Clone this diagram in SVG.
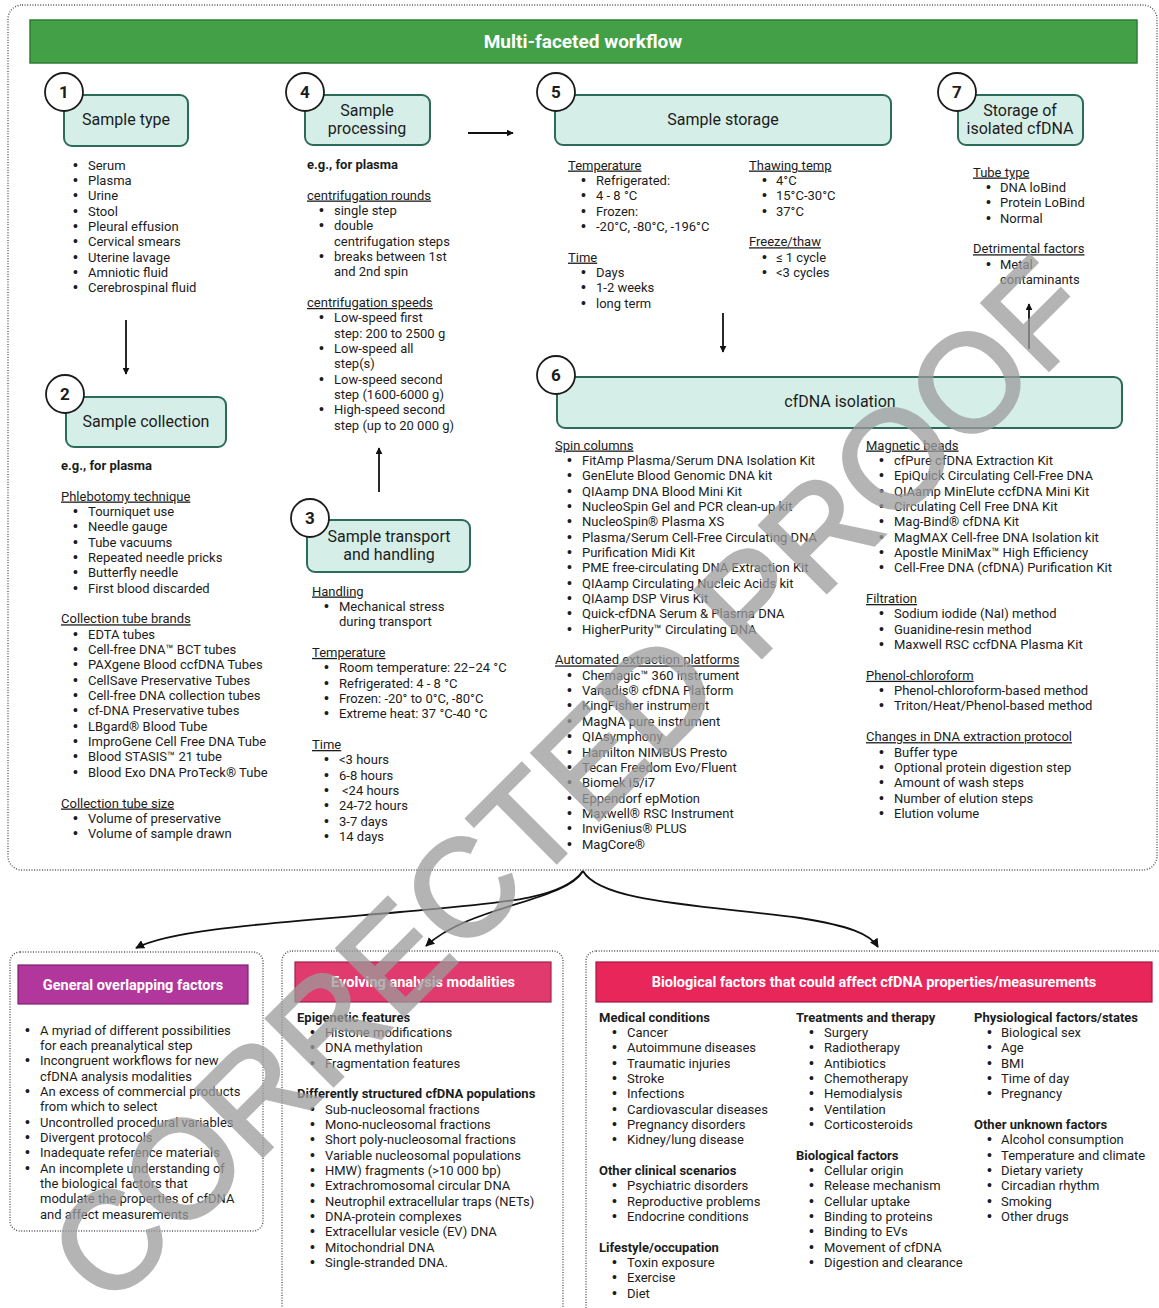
<svg xmlns="http://www.w3.org/2000/svg" width="1159" height="1308" viewBox="0 0 1159 1308">
<defs>
<style>
text{font-family:Roboto,"Liberation Sans",sans-serif;fill:#1c1c1c}
.t{font-size:13px}
.t tspan:nth-child(odd){}
.u{text-decoration:underline}
.b{font-weight:bold}
.lbl{font-size:16px;text-anchor:middle}
.num{font-size:17px;font-weight:bold;text-anchor:middle}
.box{fill:#d6eee8;stroke:#2c6a5a;stroke-width:2}
.circ{fill:#fff;stroke:#1c1c1c;stroke-width:1.8}
.dot{fill:none;stroke:#555;stroke-width:1.4;stroke-dasharray:1 1.6}
.hd{font-size:14.5px;font-weight:bold;fill:#fff;text-anchor:middle}
.ar{fill:none;stroke:#111;stroke-width:1.8}
.bl{font-family:"Liberation Sans",Arial,sans-serif;font-size:14px}
</style>
<marker id="ah" viewBox="0 0 10 10" refX="9" refY="5" markerWidth="7" markerHeight="7" orient="auto" markerUnits="userSpaceOnUse">
<path d="M0,0 L10,5 L0,10 z" fill="#111"/>
</marker>
<marker id="ah2" viewBox="0 0 10 10" refX="9" refY="5" markerWidth="9" markerHeight="9" orient="auto" markerUnits="userSpaceOnUse">
<path d="M0,0 L10,5 L0,10 z" fill="#111"/>
</marker>
</defs>
<rect width="1159" height="1308" fill="#fff"/>

<g id="frame">
<rect class="dot" x="8" y="5" width="1149" height="865" rx="14"/>
<rect x="30" y="20" width="1107" height="43" fill="#43a047" stroke="#2e7d32" stroke-width="1.5"/>
<text x="583" y="48" font-size="19" font-weight="bold" text-anchor="middle" style="fill:#fff">Multi-faceted workflow</text>
</g>

<g id="connectors">
<line class="ar" x1="468" y1="133" x2="513" y2="133" marker-end="url(#ah)"/>
<line class="ar" x1="126" y1="320" x2="126" y2="374" marker-end="url(#ah)"/>
<line class="ar" x1="379" y1="492" x2="379" y2="448" marker-end="url(#ah)"/>
<line class="ar" x1="723" y1="313" x2="723" y2="352" marker-end="url(#ah)"/>
<line class="ar" x1="1029" y1="349" x2="1029" y2="304" marker-end="url(#ah)"/>
<path class="ar" d="M583,871 C562,900 500,903 400,912 C260,924 170,930 136,948" marker-end="url(#ah2)"/>
<path class="ar" d="M583,871 C565,902 470,905 426,946" marker-end="url(#ah2)"/>
<path class="ar" d="M583,871 C600,902 700,905 800,918 C850,926 870,934 878,947" marker-end="url(#ah2)"/>
</g>

<g id="step1">
<rect class="box" x="64" y="95" width="124" height="51" rx="8"/>
<circle class="circ" cx="64" cy="92" r="19"/>
<text class="num" x="64" y="98">1</text>
<text class="lbl" x="126" y="125">Sample type</text>
<text class="t">
<tspan class="bl" x="73" y="169.5">•</tspan><tspan x="88">Serum</tspan>
<tspan class="bl" x="73" dy="15.35">•</tspan><tspan x="88">Plasma</tspan>
<tspan class="bl" x="73" dy="15.35">•</tspan><tspan x="88">Urine</tspan>
<tspan class="bl" x="73" dy="15.35">•</tspan><tspan x="88">Stool</tspan>
<tspan class="bl" x="73" dy="15.35">•</tspan><tspan x="88">Pleural effusion</tspan>
<tspan class="bl" x="73" dy="15.35">•</tspan><tspan x="88">Cervical smears</tspan>
<tspan class="bl" x="73" dy="15.35">•</tspan><tspan x="88">Uterine lavage</tspan>
<tspan class="bl" x="73" dy="15.35">•</tspan><tspan x="88">Amniotic fluid</tspan>
<tspan class="bl" x="73" dy="15.35">•</tspan><tspan x="88">Cerebrospinal fluid</tspan>
</text>
</g>

<g id="step2">
<rect class="box" x="66" y="397" width="160" height="50" rx="8"/>
<circle class="circ" cx="65" cy="394" r="19"/>
<text class="num" x="65" y="400">2</text>
<text class="lbl" x="146" y="427">Sample collection</text>
<text class="t b" x="61" y="469.5">e.g., for plasma</text>
<text class="t">
<tspan x="61" y="500.5" class="u">Phlebotomy technique</tspan>
<tspan class="bl" x="73" dy="15.35">•</tspan><tspan x="88">Tourniquet use</tspan>
<tspan class="bl" x="73" dy="15.35">•</tspan><tspan x="88">Needle gauge</tspan>
<tspan class="bl" x="73" dy="15.35">•</tspan><tspan x="88">Tube vacuums</tspan>
<tspan class="bl" x="73" dy="15.35">•</tspan><tspan x="88">Repeated needle pricks</tspan>
<tspan class="bl" x="73" dy="15.35">•</tspan><tspan x="88">Butterfly needle</tspan>
<tspan class="bl" x="73" dy="15.35">•</tspan><tspan x="88">First blood discarded</tspan>
<tspan x="61" dy="30.7" class="u">Collection tube brands</tspan>
<tspan class="bl" x="73" dy="15.35">•</tspan><tspan x="88">EDTA tubes</tspan>
<tspan class="bl" x="73" dy="15.35">•</tspan><tspan x="88">Cell-free DNA™ BCT tubes</tspan>
<tspan class="bl" x="73" dy="15.35">•</tspan><tspan x="88">PAXgene Blood ccfDNA Tubes</tspan>
<tspan class="bl" x="73" dy="15.35">•</tspan><tspan x="88">CellSave Preservative Tubes</tspan>
<tspan class="bl" x="73" dy="15.35">•</tspan><tspan x="88">Cell-free DNA collection tubes</tspan>
<tspan class="bl" x="73" dy="15.35">•</tspan><tspan x="88">cf-DNA Preservative tubes</tspan>
<tspan class="bl" x="73" dy="15.35">•</tspan><tspan x="88">LBgard® Blood Tube</tspan>
<tspan class="bl" x="73" dy="15.35">•</tspan><tspan x="88">ImproGene Cell Free DNA Tube</tspan>
<tspan class="bl" x="73" dy="15.35">•</tspan><tspan x="88">Blood STASIS™ 21 tube</tspan>
<tspan class="bl" x="73" dy="15.35">•</tspan><tspan x="88">Blood Exo DNA ProTeck® Tube</tspan>
<tspan x="61" dy="30.7" class="u">Collection tube size</tspan>
<tspan class="bl" x="73" dy="15.35">•</tspan><tspan x="88">Volume of preservative</tspan>
<tspan class="bl" x="73" dy="15.35">•</tspan><tspan x="88">Volume of sample drawn</tspan>
</text>
</g>

<g id="step3">
<rect class="box" x="307" y="520" width="163" height="52" rx="8"/>
<circle class="circ" cx="310" cy="518" r="19"/>
<text class="num" x="310" y="524">3</text>
<text class="lbl" x="389" y="542">Sample transport</text>
<text class="lbl" x="389" y="560">and handling</text>
<text class="t">
<tspan x="312" y="595.5" class="u">Handling</tspan>
<tspan class="bl" x="324" dy="15.35">•</tspan><tspan x="339">Mechanical stress</tspan>
<tspan x="339" dy="15.35">during transport</tspan>
<tspan x="312" dy="30.7" class="u">Temperature</tspan>
<tspan class="bl" x="324" dy="15.35">•</tspan><tspan x="339">Room temperature: 22−24 °C</tspan>
<tspan class="bl" x="324" dy="15.35">•</tspan><tspan x="339">Refrigerated: 4 - 8 °C</tspan>
<tspan class="bl" x="324" dy="15.35">•</tspan><tspan x="339">Frozen: -20° to 0°C, -80°C</tspan>
<tspan class="bl" x="324" dy="15.35">•</tspan><tspan x="339">Extreme heat: 37 °C-40 °C</tspan>
<tspan x="312" dy="30.7" class="u">Time</tspan>
<tspan class="bl" x="324" dy="15.35">•</tspan><tspan x="339">&lt;3 hours</tspan>
<tspan class="bl" x="324" dy="15.35">•</tspan><tspan x="339">6-8 hours</tspan>
<tspan class="bl" x="324" dy="15.35">•</tspan><tspan x="342">&lt;24 hours</tspan>
<tspan class="bl" x="324" dy="15.35">•</tspan><tspan x="339">24-72 hours</tspan>
<tspan class="bl" x="324" dy="15.35">•</tspan><tspan x="339">3-7 days</tspan>
<tspan class="bl" x="324" dy="15.35">•</tspan><tspan x="339">14 days</tspan>
</text>
</g>

<g id="step4">
<rect class="box" x="305" y="95" width="125" height="50" rx="8"/>
<circle class="circ" cx="305" cy="92" r="19"/>
<text class="num" x="305" y="98">4</text>
<text class="lbl" x="367" y="116">Sample</text>
<text class="lbl" x="367" y="134">processing</text>
<text class="t b" x="307" y="168.5">e.g., for plasma</text>
<text class="t">
<tspan x="307" y="199.5" class="u">centrifugation rounds</tspan>
<tspan class="bl" x="319" dy="15.35">•</tspan><tspan x="334">single step</tspan>
<tspan class="bl" x="319" dy="15.35">•</tspan><tspan x="334">double</tspan>
<tspan x="334" dy="15.35">centrifugation steps</tspan>
<tspan class="bl" x="319" dy="15.35">•</tspan><tspan x="334">breaks between 1st</tspan>
<tspan x="334" dy="15.35">and 2nd spin</tspan>
<tspan x="307" dy="30.7" class="u">centrifugation speeds</tspan>
<tspan class="bl" x="319" dy="15.35">•</tspan><tspan x="334">Low-speed first</tspan>
<tspan x="334" dy="15.35">step: 200 to 2500 g</tspan>
<tspan class="bl" x="319" dy="15.35">•</tspan><tspan x="334">Low-speed all</tspan>
<tspan x="334" dy="15.35">step(s)</tspan>
<tspan class="bl" x="319" dy="15.35">•</tspan><tspan x="334">Low-speed second</tspan>
<tspan x="334" dy="15.35">step (1600-6000 g)</tspan>
<tspan class="bl" x="319" dy="15.35">•</tspan><tspan x="334">High-speed second</tspan>
<tspan x="334" dy="15.35">step (up to 20 000 g)</tspan>
</text>
</g>

<g id="step5">
<rect class="box" x="555" y="95" width="336" height="50" rx="8"/>
<circle class="circ" cx="556" cy="92" r="19"/>
<text class="num" x="556" y="98">5</text>
<text class="lbl" x="723" y="125">Sample storage</text>
<text class="t">
<tspan x="568" y="169.5" class="u">Temperature</tspan>
<tspan class="bl" x="581" dy="15.35">•</tspan><tspan x="596">Refrigerated:</tspan>
<tspan class="bl" x="581" dy="15.35">•</tspan><tspan x="596">4 - 8 °C</tspan>
<tspan class="bl" x="581" dy="15.35">•</tspan><tspan x="596">Frozen:</tspan>
<tspan class="bl" x="581" dy="15.35">•</tspan><tspan x="596">-20°C, -80°C, -196°C</tspan>
<tspan x="568" dy="30.7" class="u">Time</tspan>
<tspan class="bl" x="581" dy="15.35">•</tspan><tspan x="596">Days</tspan>
<tspan class="bl" x="581" dy="15.35">•</tspan><tspan x="596">1-2 weeks</tspan>
<tspan class="bl" x="581" dy="15.35">•</tspan><tspan x="596">long term</tspan>
</text>
<text class="t">
<tspan x="749" y="169.5" class="u">Thawing temp</tspan>
<tspan class="bl" x="762" dy="15.35">•</tspan><tspan x="776">4°C</tspan>
<tspan class="bl" x="762" dy="15.35">•</tspan><tspan x="776">15°C-30°C</tspan>
<tspan class="bl" x="762" dy="15.35">•</tspan><tspan x="776">37°C</tspan>
<tspan x="749" dy="30.7" class="u">Freeze/thaw</tspan>
<tspan class="bl" x="762" dy="15.35">•</tspan><tspan x="776">≤ 1 cycle</tspan>
<tspan class="bl" x="762" dy="15.35">•</tspan><tspan x="776">&lt;3 cycles</tspan>
</text>
</g>

<g id="step6">
<rect class="box" x="557" y="377" width="565" height="51" rx="8"/>
<circle class="circ" cx="556" cy="375" r="19"/>
<text class="num" x="556" y="381">6</text>
<text class="lbl" x="840" y="407">cfDNA isolation</text>
<text class="t">
<tspan x="555" y="449.5" class="u">Spin columns</tspan>
<tspan class="bl" x="567" dy="15.35">•</tspan><tspan x="582">FitAmp Plasma/Serum DNA Isolation Kit</tspan>
<tspan class="bl" x="567" dy="15.35">•</tspan><tspan x="582">GenElute Blood Genomic DNA kit</tspan>
<tspan class="bl" x="567" dy="15.35">•</tspan><tspan x="582">QIAamp DNA Blood Mini Kit</tspan>
<tspan class="bl" x="567" dy="15.35">•</tspan><tspan x="582">NucleoSpin Gel and PCR clean-up kit</tspan>
<tspan class="bl" x="567" dy="15.35">•</tspan><tspan x="582">NucleoSpin® Plasma XS</tspan>
<tspan class="bl" x="567" dy="15.35">•</tspan><tspan x="582">Plasma/Serum Cell-Free Circulating DNA</tspan>
<tspan class="bl" x="567" dy="15.35">•</tspan><tspan x="582">Purification Midi Kit</tspan>
<tspan class="bl" x="567" dy="15.35">•</tspan><tspan x="582">PME free-circulating DNA Extraction Kit</tspan>
<tspan class="bl" x="567" dy="15.35">•</tspan><tspan x="582">QIAamp Circulating Nucleic Acids kit</tspan>
<tspan class="bl" x="567" dy="15.35">•</tspan><tspan x="582">QIAamp DSP Virus Kit</tspan>
<tspan class="bl" x="567" dy="15.35">•</tspan><tspan x="582">Quick-cfDNA Serum &amp; Plasma DNA</tspan>
<tspan class="bl" x="567" dy="15.35">•</tspan><tspan x="582">HigherPurity™ Circulating DNA</tspan>
<tspan x="555" dy="30.7" class="u">Automated extraction platforms</tspan>
<tspan class="bl" x="567" dy="15.35">•</tspan><tspan x="582">Chemagic™ 360 instrument</tspan>
<tspan class="bl" x="567" dy="15.35">•</tspan><tspan x="582">Vanadis® cfDNA Platform</tspan>
<tspan class="bl" x="567" dy="15.35">•</tspan><tspan x="582">KingFisher instrument</tspan>
<tspan class="bl" x="567" dy="15.35">•</tspan><tspan x="582">MagNA pure instrument</tspan>
<tspan class="bl" x="567" dy="15.35">•</tspan><tspan x="582">QIAsymphony</tspan>
<tspan class="bl" x="567" dy="15.35">•</tspan><tspan x="582">Hamilton NIMBUS Presto</tspan>
<tspan class="bl" x="567" dy="15.35">•</tspan><tspan x="582">Tecan Freedom Evo/Fluent</tspan>
<tspan class="bl" x="567" dy="15.35">•</tspan><tspan x="582">Biomek i5/i7</tspan>
<tspan class="bl" x="567" dy="15.35">•</tspan><tspan x="582">Eppendorf epMotion</tspan>
<tspan class="bl" x="567" dy="15.35">•</tspan><tspan x="582">Maxwell® RSC Instrument</tspan>
<tspan class="bl" x="567" dy="15.35">•</tspan><tspan x="582">InviGenius® PLUS</tspan>
<tspan class="bl" x="567" dy="15.35">•</tspan><tspan x="582">MagCore®</tspan>
</text>
<text class="t">
<tspan x="866" y="449.5" class="u">Magnetic beads</tspan>
<tspan class="bl" x="879" dy="15.35">•</tspan><tspan x="894">cfPure cfDNA Extraction Kit</tspan>
<tspan class="bl" x="879" dy="15.35">•</tspan><tspan x="894">EpiQuick Circulating Cell-Free DNA</tspan>
<tspan class="bl" x="879" dy="15.35">•</tspan><tspan x="894">QIAamp MinElute ccfDNA Mini Kit</tspan>
<tspan class="bl" x="879" dy="15.35">•</tspan><tspan x="894">Circulating Cell Free DNA Kit</tspan>
<tspan class="bl" x="879" dy="15.35">•</tspan><tspan x="894">Mag-Bind® cfDNA Kit</tspan>
<tspan class="bl" x="879" dy="15.35">•</tspan><tspan x="894">MagMAX Cell-free DNA Isolation kit</tspan>
<tspan class="bl" x="879" dy="15.35">•</tspan><tspan x="894">Apostle MiniMax™ High Efficiency</tspan>
<tspan class="bl" x="879" dy="15.35">•</tspan><tspan x="894">Cell-Free DNA (cfDNA) Purification Kit</tspan>
<tspan x="866" dy="30.7" class="u">Filtration</tspan>
<tspan class="bl" x="879" dy="15.35">•</tspan><tspan x="894">Sodium iodide (NaI) method</tspan>
<tspan class="bl" x="879" dy="15.35">•</tspan><tspan x="894">Guanidine-resin method</tspan>
<tspan class="bl" x="879" dy="15.35">•</tspan><tspan x="894">Maxwell RSC ccfDNA Plasma Kit</tspan>
<tspan x="866" dy="30.7" class="u">Phenol-chloroform</tspan>
<tspan class="bl" x="879" dy="15.35">•</tspan><tspan x="894">Phenol-chloroform-based method</tspan>
<tspan class="bl" x="879" dy="15.35">•</tspan><tspan x="894">Triton/Heat/Phenol-based method</tspan>
<tspan x="866" dy="30.7" class="u">Changes in DNA extraction protocol</tspan>
<tspan class="bl" x="879" dy="15.35">•</tspan><tspan x="894">Buffer type</tspan>
<tspan class="bl" x="879" dy="15.35">•</tspan><tspan x="894">Optional protein digestion step</tspan>
<tspan class="bl" x="879" dy="15.35">•</tspan><tspan x="894">Amount of wash steps</tspan>
<tspan class="bl" x="879" dy="15.35">•</tspan><tspan x="894">Number of elution steps</tspan>
<tspan class="bl" x="879" dy="15.35">•</tspan><tspan x="894">Elution volume</tspan>
</text>
</g>

<g id="step7">
<rect class="box" x="958" y="95" width="125" height="50" rx="8"/>
<circle class="circ" cx="957" cy="92" r="19"/>
<text class="num" x="957" y="98">7</text>
<text class="lbl" x="1020" y="116">Storage of</text>
<text class="lbl" x="1020" y="134">isolated cfDNA</text>
<text class="t">
<tspan x="973" y="176.5" class="u">Tube type</tspan>
<tspan class="bl" x="986" dy="15.35">•</tspan><tspan x="1000">DNA loBind</tspan>
<tspan class="bl" x="986" dy="15.35">•</tspan><tspan x="1000">Protein LoBind</tspan>
<tspan class="bl" x="986" dy="15.35">•</tspan><tspan x="1000">Normal</tspan>
<tspan x="973" dy="30.7" class="u">Detrimental factors</tspan>
<tspan class="bl" x="986" dy="15.35">•</tspan><tspan x="1000">Metal</tspan>
<tspan x="1000" dy="15.35">contaminants</tspan>
</text>
</g>

<g id="general">
<rect class="dot" x="10" y="952" width="253" height="279" rx="10"/>
<rect x="18" y="965" width="230" height="39" fill="#b2379c" stroke="#7d2270" stroke-width="1.2"/>
<text class="hd" x="133" y="990" style="fill:#fff">General overlapping factors</text>
<text class="t">
<tspan class="bl" x="25" y="1034.5">•</tspan><tspan x="40">A myriad of different possibilities</tspan>
<tspan x="40" dy="15.35">for each preanalytical step</tspan>
<tspan class="bl" x="25" dy="15.35">•</tspan><tspan x="40">Incongruent workflows for new</tspan>
<tspan x="40" dy="15.35">cfDNA analysis modalities</tspan>
<tspan class="bl" x="25" dy="15.35">•</tspan><tspan x="40">An excess of commercial products</tspan>
<tspan x="40" dy="15.35">from which to select</tspan>
<tspan class="bl" x="25" dy="15.35">•</tspan><tspan x="40">Uncontrolled procedural variables</tspan>
<tspan class="bl" x="25" dy="15.35">•</tspan><tspan x="40">Divergent protocols</tspan>
<tspan class="bl" x="25" dy="15.35">•</tspan><tspan x="40">Inadequate reference materials</tspan>
<tspan class="bl" x="25" dy="15.35">•</tspan><tspan x="40">An incomplete understanding of</tspan>
<tspan x="40" dy="15.35">the biological factors that</tspan>
<tspan x="40" dy="15.35">modulate the properties of cfDNA</tspan>
<tspan x="40" dy="15.35">and affect measurements</tspan>
</text>
</g>

<g id="evolving">
<rect class="dot" x="282" y="951" width="281" height="375" rx="10"/>
<rect x="295" y="962" width="256" height="40" fill="#e03a6e" stroke="#a0214b" stroke-width="1.2"/>
<text class="hd" x="423" y="987" style="fill:#fff">Evolving analysis modalities</text>
<text class="t">
<tspan x="297" y="1021.5" class="b">Epigenetic features</tspan>
<tspan class="bl" x="310" dy="15.35">•</tspan><tspan x="325">Histone modifications</tspan>
<tspan class="bl" x="310" dy="15.35">•</tspan><tspan x="325">DNA methylation</tspan>
<tspan class="bl" x="310" dy="15.35">•</tspan><tspan x="325">Fragmentation features</tspan>
<tspan x="297" dy="30.7" class="b">Differently structured cfDNA populations</tspan>
<tspan class="bl" x="310" dy="15.35">•</tspan><tspan x="325">Sub-nucleosomal fractions</tspan>
<tspan class="bl" x="310" dy="15.35">•</tspan><tspan x="325">Mono-nucleosomal fractions</tspan>
<tspan class="bl" x="310" dy="15.35">•</tspan><tspan x="325">Short poly-nucleosomal fractions</tspan>
<tspan class="bl" x="310" dy="15.35">•</tspan><tspan x="325">Variable nucleosomal populations</tspan>
<tspan class="bl" x="310" dy="15.35">•</tspan><tspan x="325">HMW) fragments (&gt;10 000 bp)</tspan>
<tspan class="bl" x="310" dy="15.35">•</tspan><tspan x="325">Extrachromosomal circular DNA</tspan>
<tspan class="bl" x="310" dy="15.35">•</tspan><tspan x="325">Neutrophil extracellular traps (NETs)</tspan>
<tspan class="bl" x="310" dy="15.35">•</tspan><tspan x="325">DNA-protein complexes</tspan>
<tspan class="bl" x="310" dy="15.35">•</tspan><tspan x="325">Extracellular vesicle (EV) DNA</tspan>
<tspan class="bl" x="310" dy="15.35">•</tspan><tspan x="325">Mitochondrial DNA</tspan>
<tspan class="bl" x="310" dy="15.35">•</tspan><tspan x="325">Single-stranded DNA.</tspan>
</text>
</g>

<g id="biological">
<rect class="dot" x="586" y="951" width="590" height="375" rx="10"/>
<rect x="596" y="962" width="556" height="40" fill="#e8265a" stroke="#a3163f" stroke-width="1.2"/>
<text class="hd" x="874" y="987" style="fill:#fff">Biological factors that could affect cfDNA properties/measurements</text>
<text class="t">
<tspan x="599" y="1021.5" class="b">Medical conditions</tspan>
<tspan class="bl" x="612" dy="15.35">•</tspan><tspan x="627">Cancer</tspan>
<tspan class="bl" x="612" dy="15.35">•</tspan><tspan x="627">Autoimmune diseases</tspan>
<tspan class="bl" x="612" dy="15.35">•</tspan><tspan x="627">Traumatic injuries</tspan>
<tspan class="bl" x="612" dy="15.35">•</tspan><tspan x="627">Stroke</tspan>
<tspan class="bl" x="612" dy="15.35">•</tspan><tspan x="627">Infections</tspan>
<tspan class="bl" x="612" dy="15.35">•</tspan><tspan x="627">Cardiovascular diseases</tspan>
<tspan class="bl" x="612" dy="15.35">•</tspan><tspan x="627">Pregnancy disorders</tspan>
<tspan class="bl" x="612" dy="15.35">•</tspan><tspan x="627">Kidney/lung disease</tspan>
<tspan x="599" dy="30.7" class="b">Other clinical scenarios</tspan>
<tspan class="bl" x="612" dy="15.35">•</tspan><tspan x="627">Psychiatric disorders</tspan>
<tspan class="bl" x="612" dy="15.35">•</tspan><tspan x="627">Reproductive problems</tspan>
<tspan class="bl" x="612" dy="15.35">•</tspan><tspan x="627">Endocrine conditions</tspan>
<tspan x="599" dy="30.7" class="b">Lifestyle/occupation</tspan>
<tspan class="bl" x="612" dy="15.35">•</tspan><tspan x="627">Toxin exposure</tspan>
<tspan class="bl" x="612" dy="15.35">•</tspan><tspan x="627">Exercise</tspan>
<tspan class="bl" x="612" dy="15.35">•</tspan><tspan x="627">Diet</tspan>
</text>
<text class="t">
<tspan x="796" y="1021.5" class="b">Treatments and therapy</tspan>
<tspan class="bl" x="809" dy="15.35">•</tspan><tspan x="824">Surgery</tspan>
<tspan class="bl" x="809" dy="15.35">•</tspan><tspan x="824">Radiotherapy</tspan>
<tspan class="bl" x="809" dy="15.35">•</tspan><tspan x="824">Antibiotics</tspan>
<tspan class="bl" x="809" dy="15.35">•</tspan><tspan x="824">Chemotherapy</tspan>
<tspan class="bl" x="809" dy="15.35">•</tspan><tspan x="824">Hemodialysis</tspan>
<tspan class="bl" x="809" dy="15.35">•</tspan><tspan x="824">Ventilation</tspan>
<tspan class="bl" x="809" dy="15.35">•</tspan><tspan x="824">Corticosteroids</tspan>
<tspan x="796" dy="30.7" class="b">Biological factors</tspan>
<tspan class="bl" x="809" dy="15.35">•</tspan><tspan x="824">Cellular origin</tspan>
<tspan class="bl" x="809" dy="15.35">•</tspan><tspan x="824">Release mechanism</tspan>
<tspan class="bl" x="809" dy="15.35">•</tspan><tspan x="824">Cellular uptake</tspan>
<tspan class="bl" x="809" dy="15.35">•</tspan><tspan x="824">Binding to proteins</tspan>
<tspan class="bl" x="809" dy="15.35">•</tspan><tspan x="824">Binding to EVs</tspan>
<tspan class="bl" x="809" dy="15.35">•</tspan><tspan x="824">Movement of cfDNA</tspan>
<tspan class="bl" x="809" dy="15.35">•</tspan><tspan x="824">Digestion and clearance</tspan>
</text>
<text class="t">
<tspan x="974" y="1021.5" class="b">Physiological factors/states</tspan>
<tspan class="bl" x="987" dy="15.35">•</tspan><tspan x="1001">Biological sex</tspan>
<tspan class="bl" x="987" dy="15.35">•</tspan><tspan x="1001">Age</tspan>
<tspan class="bl" x="987" dy="15.35">•</tspan><tspan x="1001">BMI</tspan>
<tspan class="bl" x="987" dy="15.35">•</tspan><tspan x="1001">Time of day</tspan>
<tspan class="bl" x="987" dy="15.35">•</tspan><tspan x="1001">Pregnancy</tspan>
<tspan x="974" dy="30.7" class="b">Other unknown factors</tspan>
<tspan class="bl" x="987" dy="15.35">•</tspan><tspan x="1001">Alcohol consumption</tspan>
<tspan class="bl" x="987" dy="15.35">•</tspan><tspan x="1001">Temperature and climate</tspan>
<tspan class="bl" x="987" dy="15.35">•</tspan><tspan x="1001">Dietary variety</tspan>
<tspan class="bl" x="987" dy="15.35">•</tspan><tspan x="1001">Circadian rhythm</tspan>
<tspan class="bl" x="987" dy="15.35">•</tspan><tspan x="1001">Smoking</tspan>
<tspan class="bl" x="987" dy="15.35">•</tspan><tspan x="1001">Other drugs</tspan>
</text>
</g>

<g id="watermark" opacity="0.75">
<text transform="translate(570,780) rotate(-45)" x="0" y="49" text-anchor="middle" style="fill:#9c9c9c;stroke:#9c9c9c;stroke-width:3;font-family:'Liberation Sans',Arial,sans-serif;font-size:138px">CORRECTED PROOF</text>
</g>
</svg>
